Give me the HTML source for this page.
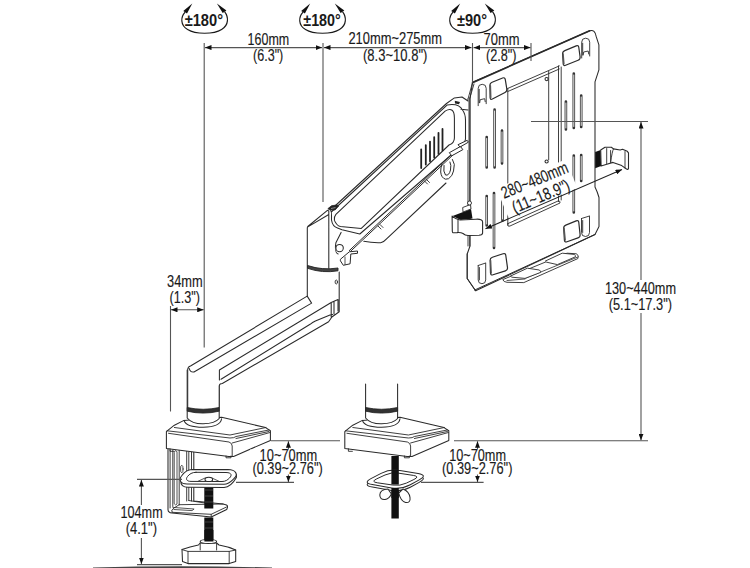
<!DOCTYPE html>
<html><head><meta charset="utf-8">
<style>
html,body{margin:0;padding:0;background:#fff;}
svg{display:block;}
text{font-family:"Liberation Sans",sans-serif;fill:#1a1a1a;stroke:#1a1a1a;stroke-width:0.15;}
.d{stroke:#555;stroke-width:1.1;fill:none;}
.k{stroke:#2a2a2a;stroke-width:1.05;fill:none;stroke-linejoin:round;stroke-linecap:round;}
.w{fill:#fff;stroke:#2a2a2a;stroke-width:1.05;stroke-linejoin:round;}
.t{font-size:16.5px;}
.b{font-size:16px;font-weight:bold;stroke-width:0;}
</style></head><body>
<svg width="750" height="568" viewBox="0 0 750 568">
<defs>
<marker id="ar" viewBox="0 0 10 6" refX="10" refY="3" markerWidth="6.5" markerHeight="5" preserveAspectRatio="none" markerUnits="userSpaceOnUse" orient="auto-start-reverse"><path d="M0,0 L10,3 L0,6 Z" fill="#111"/></marker>
</defs>
<g id="rot">
<symbol id="rs" overflow="visible"><path d="M-19.5,-7.8 C-24,-3 -24.5,5 -17,9.5 C-9,14.5 9,14.5 17,9.5 C24.5,5 24,-3 20,-8.3" fill="none" stroke="#1a1a1a" stroke-width="1.2"/>
<path d="M-12.3,-16.5 L-21.3,-9 L-17.6,-6.6 Z" fill="#111"/><path d="M12.3,-16.5 L21.8,-9.5 L18.1,-7 Z" fill="#111"/></symbol>
<use href="#rs" x="204.6" y="20"/><use href="#rs" x="322.5" y="20"/><use href="#rs" x="472.5" y="20"/>
</g>
<text class="b" x="184.7" y="26.2" textLength="38.3" lengthAdjust="spacingAndGlyphs">±180°</text>
<text class="b" x="303.3" y="26.2" textLength="37.4" lengthAdjust="spacingAndGlyphs">±180°</text>
<text class="b" x="457" y="26.2" textLength="30" lengthAdjust="spacingAndGlyphs">±90°</text>

<!-- ===== LEFT CLAMP ===== -->
<g id="clampL">
<!-- C body -->
<path class="w" d="M168,447 V509.5 Q168,512.7 172,513 L211.2,517 L226.7,509.5 Q228.5,506 226.5,505 L223,504 L193.8,501 V449.2 Z"/>
<path class="k" d="M170.1,450 V508 M172.8,450 V506.5 M179.2,450 V505 M186.7,450 V501 M188.8,452 V500.5 M191.5,450 V501" style="stroke-width:0.9"/>
<path class="k" d="M174.4,452 Q175.7,449 177,452 V504 Q175.7,506 174.4,504 Z" style="stroke-width:0.8"/>
<ellipse class="k" cx="181.8" cy="469" rx="1.3" ry="3.8" style="stroke-width:0.8"/>
<path class="k" d="M172,512 Q170.5,510 174,508 L179.2,504.7 M179.2,504.7 L223,504 M172,512.3 L211.2,514.3 L226.5,507 M211.2,514.3 V517 M188.8,500.5 L204.8,503" style="stroke-width:0.9"/>
<path class="k" d="M172.8,507.4 L194.1,509 L192,510.6 L173.9,509.5" style="stroke-width:0.8"/>
<!-- screw rod -->
<rect x="204.3" y="485" width="9" height="23.5" fill="#111"/>
<rect x="204.3" y="517.5" width="9" height="25" fill="#111"/>
<path d="M205,490 h8 M205,496 h8 M205,502 h8 M205,522 h8 M205,528 h8 M205,534 h8" stroke="#666" stroke-width="0.6"/>
<!-- pad -->
<path class="w" d="M180.8,477.5 V480.5 C180.5,485 183,487.2 188,487.2 L224,487.4 C229,487.2 233,483.5 236.4,477.5 V474.5 Z"/>
<path class="w" d="M192,469.5 L228,469.6 C236,469.8 238.5,474.5 234,478.5 C231,481.5 229,484 224,484.2 L187,484 C180.5,484 178.5,480 181.5,476 C184,472.5 187,469.5 192,469.5 Z"/>
<path class="k" d="M196,472.3 L226,472.5 C232,472.6 232,475.5 229.5,478 C227.5,480 225.5,481.5 222,481.5 L191,481.4 C186.5,481.4 185.5,479 187.5,476.5 C189.5,474 192,472.3 196,472.3 Z" style="stroke-width:1"/>
<path class="k" d="M198,481.3 L205,478 H212 L219,481.3" style="stroke-width:0.8"/>
<ellipse class="w" cx="208.8" cy="479.4" rx="3.8" ry="2.2"/>
<!-- knob -->
<path class="w" d="M182,549.6 Q190,546.5 198.4,545 L200.2,543 H216.6 L219,545 Q228,546.5 235.7,550 V561.5 L229.2,563.6 H188 L182.5,561.5 Z"/>
<path class="k" d="M182,549.6 L188,551.4 H229.2 L235.7,550 M188,551.4 V563.6 M229.2,551.4 V563.6 M200.2,543 V550 M216.6,543 V550" style="stroke-width:0.9"/>
<ellipse class="w" cx="208.4" cy="541.5" rx="8.2" ry="2"/>
<rect x="204.4" y="530" width="9" height="11.5" fill="#111"/>
<!-- block -->
<g id="blk">
<path class="w" d="M167.2,430.8 L174.4,425.2 L184,420.4 L221.6,417.2 L265.6,427.6 L270.4,430.8 V440.4 L233.6,456.4 L228.8,456.4 L166.4,448.4 V431.6 Z"/>
<path class="k" d="M167.2,430.8 L230,438 Q234.4,438 236,436.5 L268.8,430 M168.5,433.3 L229,442 Q232,443 232.2,446 V456.4 M236,438.5 L269,431.5 M232.2,443 L270,432.5 M174.4,427.5 L230,435 L266,427.5" style="stroke-width:0.9"/>
<path class="k" d="M170,448.8 v2.5 h4 M226,456 v1.8 h5 v-1.8" style="stroke-width:0.9"/>
</g>
<!-- post -->
<path class="w" d="M187.2,370 V418 Q190,424.4 203.2,424.4 Q216,424.4 219.2,418 V386 Z" style="stroke:none"/>
<path class="k" d="M184,420.4 Q186,427.3 203.2,427.3 Q220.5,427 221.6,418.8 M187.2,370 V418 Q192,424 203.2,423.8 Q215,423.5 219.2,418.5 V386"/>
<path d="M187.2,407.5 Q203,411 219.2,407.5 V411.2 Q203,415 187.2,411.2 Z" fill="#333" stroke="#222" stroke-width="0.8"/>
</g>
<path d="M93,568.5 Q180,565.8 272,568.5" stroke="#444" stroke-width="1.8" fill="none"/>
<!-- ===== RIGHT (GROMMET) CLAMP ===== -->
<g transform="translate(178.4,0)">
<use href="#blk"/>
<!-- post -->
<path class="w" d="M187.2,384 V418 Q190,424.4 203.2,424.4 Q216,424.4 219.2,418 V384 Z" style="stroke:none"/>
<path class="k" d="M184,420.4 Q186,427.3 203.2,427.3 Q220.5,427 221.6,418.8 M187.2,384 V418 Q192,424 203.2,423.8 Q215,423.5 219.2,418.5 V384"/>
<path d="M187.2,407.5 Q203,411 219.2,407.5 V411.2 Q203,415 187.2,411.2 Z" fill="#333" stroke="#222" stroke-width="0.8"/>
</g>
<g id="grom">
<rect x="391.4" y="456" width="7.4" height="62.5" fill="#111"/>
<g>
<path class="w" d="M372.4,487.1 Q362.5,485.5 371.4,480.9 L381.1,475.9 Q390.0,471.3 399.9,473.0 L418.1,476.0 Q428.0,477.7 419.2,482.4 L410.3,487.3 Q401.5,492.0 391.6,490.4 Z"/>
<path class="w" d="M372.4,484.6 Q362.5,483.0 371.4,478.4 L381.1,473.4 Q390.0,468.8 399.9,470.5 L418.1,473.5 Q428.0,475.2 419.2,479.9 L410.3,484.8 Q401.5,489.5 391.6,487.9 Z"/>
<path class="k" d="M377.3,482.8 Q370.4,481.8 376.8,478.8 L385.0,475.0 Q391.3,472.1 398.2,473.1 L413.3,475.4 Q420.2,476.5 413.9,479.5 L406.4,483.1 Q400.1,486.2 393.1,485.1 Z" style="stroke-width:1"/>
</g>
<rect x="391.4" y="470" width="7.4" height="14.5" fill="#111"/>
<path class="w" d="M388,489 Q380,489.5 379.8,495 Q380,500 385,499.5 Q389,499 391.4,494 Z M398.8,493 Q400.5,501 405.6,502.5 Q410.8,503 410,497.5 Q409.3,491.5 403.1,488.9 Z" />
<rect x="391.4" y="488" width="7.4" height="10" fill="#111"/>
</g>

<!-- ===== PLATE ===== -->
<g id="plate">
<path class="w" d="M473.5,81.8 L589.7,30.8 Q595,29 596.3,36.9 L598.9,44.8 V69.9 L595,81.8 V187 Q597.5,192 599,197.5 V226.6 L595,234.5 L475.6,290.8 L467.2,278.5 V254 L470,246 V99 L472.5,82.7 Z"/>
<path class="k" d="M472.5,82.7 L589.7,30.8" style="stroke-width:1.6"/>
<path class="k" d="M468,99 V246 M469.8,98 V246 M467.2,254 V278.5 L475.6,290.8 M472.5,82.7 L468,99 M474,84 L469.8,98" style="stroke-width:0.9"/>
<!-- inner panel -->
<path class="k" d="M507.8,88.4 L559.3,65.9 M507.8,91.5 L559.3,69 M507.8,88.4 V225.3 M548.7,71.2 V159.7 M558.5,65.9 V201.5 M561.2,67 V200" style="stroke-width:0.9"/>
<path class="k" d="M508,223.5 L558,201 Q560.5,200.5 560,203 L510,226 Q507,227 508,223.5 Z" style="stroke-width:0.9"/>
<circle class="k" cx="546.6" cy="79.1" r="1.6"/><circle class="k" cx="546.6" cy="161.5" r="1.6"/>
<!-- rects -->
<path class="w" d="M489.9,85.6 Q489.8,83.1 492.1,82.2 L502.6,78.0 Q504.9,77.1 505.3,79.6 L506.8,88.9 Q507.2,91.4 505.0,92.5 L492.4,99.0 Q490.2,100.1 490.1,97.6 Z" style="stroke-width:1.2"/>
<path class="k" d="M490.40000000000003,85.6 L490.8,97.6" style="stroke-width:1.4;stroke:#555"/>
<path class="w" d="M562.6,54.0 Q562.5,51.5 564.8,50.6 L576.2,45.9 Q578.5,45.0 578.8,47.5 L580.1,56.8 Q580.4,59.3 578.1,60.2 L565.6,65.3 Q563.3,66.2 563.2,63.7 Z" style="stroke-width:1.2"/>
<path class="k" d="M563.1,54.0 L563.9,63.7" style="stroke-width:1.4;stroke:#555"/>
<path class="w" d="M490.1,260.5 Q490.0,258.0 492.4,257.2 L503.1,253.8 Q505.5,253.0 505.8,255.5 L507.5,267.6 Q507.8,270.1 505.4,270.9 L493.0,274.8 Q490.6,275.6 490.5,273.1 Z" style="stroke-width:1.2"/>
<path class="k" d="M490.6,260.5 L491.20000000000005,273.1" style="stroke-width:1.4;stroke:#555"/>
<path class="w" d="M563.7,228.5 Q563.5,226.0 565.8,225.1 L576.2,220.9 Q578.5,220.0 578.8,222.5 L580.1,234.6 Q580.4,237.1 578.0,237.9 L567.0,241.8 Q564.6,242.6 564.4,240.1 Z" style="stroke-width:1.2"/>
<path class="k" d="M564.1,228.5 L565.2,240.1" style="stroke-width:1.4;stroke:#555"/>
<!-- arches -->
<path class="k" d="M478.2,105.7 V88.3 Q478.2,84.3 482.2,84.3 Q486.2,84.3 486.2,88.3 V103.7 M479.7,102.7 L480.2,99.7 L484.7,98.7 L485.2,101.7 M479.2,89.3 V102.7" style="stroke-width:0.9"/>
<path class="k" d="M581.7,58 V42.2 Q581.7,38.2 585.7,38.2 Q589.7,38.2 589.7,42.2 V56 M583.2,55 L583.7,52 L588.2,51 L588.7,54 M582.7,43.2 V55" style="stroke-width:0.9"/>
<path class="k" d="M478.2,265.5 V279.95 Q478.2,283.7 481.95,283.7 Q485.7,283.7 485.7,279.95 V263.5 M478.2,265.5 L485.7,263.0 M479.4,267.5 V279.95" style="stroke-width:0.9"/>
<path class="k" d="M581.5,218.5 V232.5 Q581.5,236.5 585.5,236.5 Q589.5,236.5 589.5,232.5 V216.5 M581.5,218.5 L589.5,216.0 M582.7,220.5 V232.5" style="stroke-width:0.9"/>
<!-- slots -->
<g fill="none" stroke="#333" stroke-width="2.6" stroke-linecap="round">
<path d="M494.6,109.5 V167.5 M486.7,137 V167.5 M502,130.5 V163.5 M565.9,101.5 V129.5 M573.8,73.5 V128 M581.2,95.5 V127 M573.8,155.5 V212.5 M581.2,155 V181 M486.7,196 V225.5 M494,193 V248 M502.5,198.5 V220.5"/>
</g>
<g fill="none" stroke="#fff" stroke-width="0.9" stroke-linecap="round">
<path d="M494.6,111 V166 M486.7,138.5 V166 M502,132 V162 M565.9,103 V128 M573.8,75 V126.5 M581.2,97 V125.5 M573.8,157 V211 M581.2,156.5 V179.5 M486.7,197.5 V224 M494,194.5 V246.5 M502.5,200 V219"/>
</g>
<!-- tray -->
<path class="w" d="M502.8,279.6 Q503.5,282 507,282.3 L523.8,282.6 L577.8,258.6 Q579.5,256 576.6,253.8 L567,253.2 Z" style="stroke-width:0.9"/>
<path class="k" d="M525,278.4 L577.8,257 M507,280.5 L525,279" style="stroke-width:0.8"/>
<path class="w" d="M510.6,276 L527.4,268.2 L539.4,270 Q541,271.5 540.6,272.4 L525,278.4 L511.8,277.2 Z" style="stroke-width:0.9"/>
<path class="w" d="M545.4,261 L562.2,253.2 L574.2,254.4 Q576,255.5 575.4,256.8 L557.4,264.6 L546.6,262.2 Z" style="stroke-width:0.9"/>
<path class="k" d="M595,234.5 L474.8,290" style="stroke-width:1"/>
</g>
<!-- ===== UPPER ARM ===== -->
<g id="uparm">
<path fill="#fff" d="M330.6,210 L446.5,103.5 L454.4,97.9 L461,97.5 L468,100.7 V150 L461,150 L350,262 L335,252 L335.1,248.8 L335.9,242.8 L341.1,232.4 Q333,229 330.6,221.9 Z"/>
<path class="k" d="M330.6,210 L446.5,103.5 L454.4,97.9 L462,97 L468,101 M331.8,211.5 L447.3,104.9 Q459,103 462.5,110 Q465.5,114 465.5,120 V139 Q465,143 461,145 M461,109.2 L468,110 M330.6,210 Q331.8,212 331.5,216 V220 Q332.5,226.5 337.5,228 L342,229.8 L359.8,234 L461,146.5"/>
<path class="k" d="M335.9,214.4 L445.1,111.1 Q454.4,106 454.4,118 V138 Q454.4,143 449,145 L361.3,228.4 L340.4,226.6 Q336.6,225.5 334.4,220.4 Q334,216.5 335.9,214.4 Z"/>
<path class="k" d="M349.3,250.6 L461,145.5 M349.3,252.5 L461,147.4" style="stroke-width:1"/>
<path class="k" d="M363.8,241.3 Q372,243 380.7,242.7 Q384,242 386.3,239.2 L446,183" />
<path class="k" d="M341.1,232.4 L335.9,242.8 L335.1,248.8 Q335.5,253 338.1,254" />
<circle class="w" cx="339.6" cy="248.1" r="3.7"/>
<path class="w" d="M340.4,259.3 L349.3,251.8 L357.5,251 V253.3 L350.8,254 L350.1,263.8 L343.3,265.3 L340.4,260.8 Z" style="stroke-width:1"/>
<path class="k" d="M345,257 V264.5" style="stroke-width:0.8"/>
<g fill="none" stroke="#222" stroke-width="1.8" stroke-linecap="round">
<path d="M421.2,149.5 V168 M425.8,145.1 V164.5 M430,141.6 V161.3 M434.2,137.2 V157.5 M438.5,132.8 V153.9 M442.5,128.9 V150.4"/>
</g>
<path class="k" d="M452.4,159.5 L454.3,164.4 Q454,172 451.8,175.5 Q448.5,180 445.6,179.2 Q441.3,178 440.7,172 Q440.5,168 442,164 M444,165.5 Q443,172 445.5,175 Q449,176 450.5,170 Q451.5,165 450,162" style="stroke-width:1"/>
<path class="w" d="M449.3,152.7 L460.4,146.5 L462.9,149.6 L451.8,155.8 Z" style="stroke-width:1"/>
<path class="w" d="M458,144.7 L467.2,140.3 L468.4,142.2 L460,147 Z" style="stroke-width:1"/>
<path class="k" d="M378,226 l3,3 M380,224.5 l3,3 M424.5,181 l3,3 M426.5,179.5 l3,3" style="stroke-width:0.9"/>
<path d="M328,208.6 L331.6,205.7 L337.2,205 L338.6,206.1 L335.1,210 L328.8,209.6 Z" fill="#222" stroke="#222" stroke-width="0.8"/><path d="M331,208.5 L335.5,207.6" stroke="#999" stroke-width="0.9"/>
<path d="M454.8,100.7 L460,102 L459,104.3 L455,103.5 Z" fill="#222"/>
</g>
<!-- left bracket on plate -->
<g id="brkL">
<path d="M452.6,216 L471,208.9 L472.5,218.5 L460.8,220 Z" fill="#111"/>
<path class="w" d="M462.7,207.5 L470.5,204.5 L471,209 L463,212 Z" style="stroke-width:0.9"/>
<circle class="w" cx="469.5" cy="203" r="2" style="stroke-width:0.9"/>
<path class="w" d="M452.1,216.1 Q456,219.5 460,220 L476,219.2 Q482.6,218.8 482.6,222 V233 Q482.6,235 479,235.3 L468,235.5 Q465,235.5 463,233.5 Q461,232.3 457,232.6 L453,232.8 Q452.3,232.5 452.3,231 Z" style="stroke-width:1.1"/>
<path class="k" d="M458,219.5 V232.5" style="stroke-width:1"/>
</g>
<!-- right hook -->
<g id="hook">
<path d="M595.2,152 L600.7,150 L601.1,166 L595.2,168.3 Z" fill="#111"/>
<path class="w" d="M600.7,150 L605,147.3 L611.4,147.3 L613.4,148.9 L620.2,150 L622.5,149.3 L627.3,151.3 L628.5,152.9 V168.5 Q628,170 626.5,169 L621.7,165.6 L613,162.4 L606,164.5 L601.1,166 Z" style="stroke-width:1.1"/>
<path class="k" d="M606.7,148.5 V163.6 M610.6,150.5 V162.8 Q612,152 613.4,149 M625,151.5 V168" style="stroke-width:0.9"/>
</g>
<!-- dimension lines -->
<path class="d" d="M204.2,43 V347.4 M323,43 V202 M472.5,43 V82.5 M531,43 V61"/>
<line class="d" x1="205" y1="47.6" x2="322" y2="47.6" marker-start="url(#ar)" marker-end="url(#ar)"/>
<line class="d" x1="324" y1="47.6" x2="471.5" y2="47.6" marker-start="url(#ar)" marker-end="url(#ar)"/>
<line class="d" x1="473.5" y1="47.6" x2="530.5" y2="47.6" marker-start="url(#ar)" marker-end="url(#ar)"/>
<path class="d" d="M170.5,306 V411.5"/>
<line class="d" x1="171" y1="309.8" x2="203.7" y2="309.8" marker-start="url(#ar)" marker-end="url(#ar)"/>
<path class="d" d="M531,121.5 H648 M271,440.8 H340 M454,440.8 H648 M236,482.4 H294 M421,482.4 H483.6 M137,479.4 H182 M137,564.6 H182"/>
<line class="d" x1="641" y1="122" x2="641" y2="440.3" marker-start="url(#ar)" marker-end="url(#ar)"/>
<line class="d" x1="288.4" y1="441.3" x2="288.4" y2="482" marker-start="url(#ar)" marker-end="url(#ar)"/>
<line class="d" x1="477.5" y1="441.3" x2="477.5" y2="482" marker-start="url(#ar)" marker-end="url(#ar)"/>
<line class="d" x1="141.4" y1="480" x2="141.4" y2="564" marker-start="url(#ar)" marker-end="url(#ar)"/>

<!-- 280~480 dimension -->
<rect transform="translate(504,199) rotate(-22.5)" x="-3" y="-13" width="75" height="31" fill="#fff"/>
<line class="d" x1="485.5" y1="228.8" x2="622" y2="169.5" marker-start="url(#ar)" marker-end="url(#ar)" style="stroke:#222"/>
<text class="t" style="font-size:17px" transform="translate(504,199) rotate(-22.5)" textLength="71" lengthAdjust="spacingAndGlyphs">280~480mm</text>
<text class="t" style="font-size:17px" transform="translate(515,213.5) rotate(-23)" textLength="61" lengthAdjust="spacingAndGlyphs">(11~18.9")</text>
<!-- ===== LOWER ARM ===== -->
<g id="lowarm">
<path class="w" style="stroke:none" d="M187.7,369.4 Q188,366.5 190,366.5 L307.2,296.1 V227 L328.5,211 L339,272 V311 L332.7,318 L222.3,383.5 Q219.2,384 219.2,386 V407 H187.7 Z"/>
<path class="k" d="M187.7,408 V369.4 Q188,366.5 190.5,366 L307.2,296.1 M194,372 Q190,372.5 189.3,368.5 M194,372 L311.6,303.1 L307.2,296.1 M219.2,407 V386 Q219.3,383.6 222.3,383.5 L328.6,321.7 L331.9,317 L339.2,311.8 V272 M219.4,380 V370 L331.2,302.5 V317 M221,379.2 L310.1,324.3 Q312.5,322.5 315.4,321 L330,315 L332.6,314.4 M338,299.6 V311 M331.2,302.5 L338,299.6 M334,301.5 V314"/>
</g>
<!-- ===== ELBOW ===== -->
<g id="elbow">
<path class="k" d="M307.3,296.1 V227.6 L307.8,226.5 L327.4,210.3 L328.8,211 V268.2 M308.3,226.6 L328.8,214.5"/>
<path d="M307.5,265.5 Q322.4,270.5 338,268 V270.8 Q322.4,273.5 307.5,268.3 Z" fill="#444" stroke="#222" stroke-width="0.9"/>
<ellipse class="k" cx="336.3" cy="282" rx="1.2" ry="2" style="stroke-width:0.9"/>
</g>
<g fill="#fff"><rect x="602" y="280" width="78" height="33"/><rect x="118" y="505" width="47" height="33"/><rect x="250" y="449.5" width="75" height="25"/><rect x="440" y="449.5" width="75" height="25"/></g>
<text class="t" x="247.6" y="44.6" textLength="41.6" lengthAdjust="spacingAndGlyphs">160mm</text>
<text class="t" x="253" y="60.9" textLength="30.3" lengthAdjust="spacingAndGlyphs">(6.3")</text>
<text class="t" x="348.4" y="44.3" textLength="93.6" lengthAdjust="spacingAndGlyphs">210mm~275mm</text>
<text class="t" x="363" y="60.9" textLength="64.4" lengthAdjust="spacingAndGlyphs">(8.3~10.8")</text>
<text class="t" x="483.6" y="44.9" textLength="36" lengthAdjust="spacingAndGlyphs">70mm</text>
<text class="t" x="486" y="60.9" textLength="30.6" lengthAdjust="spacingAndGlyphs">(2.8")</text>
<text class="t" x="167" y="286.9" textLength="35.6" lengthAdjust="spacingAndGlyphs">34mm</text>
<text class="t" x="169.5" y="302.9" textLength="30.5" lengthAdjust="spacingAndGlyphs">(1.3")</text>
<text class="t" x="604.9" y="293.9" textLength="71.1" lengthAdjust="spacingAndGlyphs">130~440mm</text>
<text class="t" x="608.7" y="309.9" textLength="63.3" lengthAdjust="spacingAndGlyphs">(5.1~17.3")</text>
<text class="t" x="259.6" y="460.7" textLength="57.6" lengthAdjust="spacingAndGlyphs">10~70mm</text>
<text class="t" x="252.4" y="474.4" textLength="70.4" lengthAdjust="spacingAndGlyphs">(0.39~2.76")</text>
<text class="t" x="449.2" y="460.7" textLength="56.8" lengthAdjust="spacingAndGlyphs">10~70mm</text>
<text class="t" x="442" y="474.4" textLength="70.4" lengthAdjust="spacingAndGlyphs">(0.39~2.76")</text>
<text class="t" x="120.5" y="517.9" textLength="42.2" lengthAdjust="spacingAndGlyphs">104mm</text>
<text class="t" x="125.7" y="534.4" textLength="31.3" lengthAdjust="spacingAndGlyphs">(4.1")</text>

</svg>
</body></html>
